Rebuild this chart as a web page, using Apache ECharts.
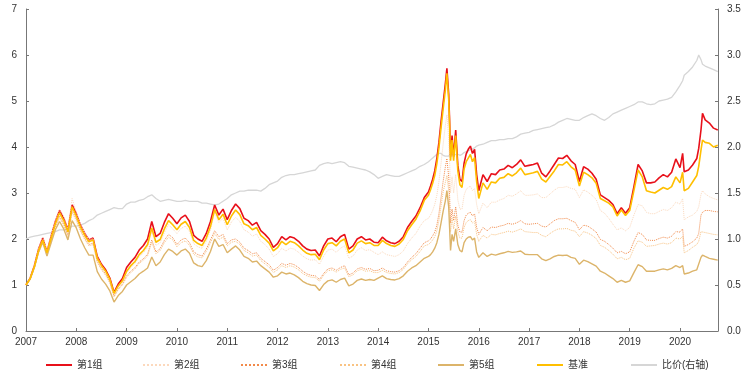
<!DOCTYPE html>
<html><head><meta charset="utf-8">
<script src="https://cdn.jsdelivr.net/npm/echarts@6/dist/echarts.min.js"></script>
<style>html,body{margin:0;padding:0;background:#fff}#c{width:744px;height:375px}</style>
</head><body><div id="c"></div>
<script>
function months(y){var a=[];for(var m=1;m<=12;m++){a.push(y+'-'+(m<10?'0':'')+m+'-01');}return a;}
var dates = [].concat(months(2007),months(2008),months(2009),months(2010),months(2011),months(2012),months(2013),months(2014),
 ['2015-01-01','2015-01-16','2015-02-01','2015-02-16','2015-03-01','2015-03-16','2015-04-01','2015-04-16','2015-05-01','2015-05-13','2015-05-26','2015-06-02','2015-06-09','2015-06-20','2015-07-01','2015-07-16','2015-08-01','2015-08-16','2015-09-01','2015-09-16','2015-10-01','2015-10-16','2015-11-01','2015-11-16','2015-12-01','2015-12-16'],
 months(2016),months(2017),months(2018),months(2019),
 ['2020-01-01','2020-01-20','2020-02-01','2020-03-01','2020-04-01','2020-05-01','2020-05-15','2020-06-01','2020-06-12','2020-07-01','2020-08-01','2020-09-01','2020-10-01']);

var g1 = [1.00,1.15,1.42,1.78,2.02,1.72,2.06,2.38,2.62,2.45,2.20,2.74,
2.55,2.30,2.12,1.98,2.02,1.62,1.45,1.33,1.15,0.84,1.02,1.14,
1.38,1.50,1.60,1.76,1.86,2.00,2.38,2.05,2.12,2.36,2.55,2.45,
2.33,2.46,2.52,2.38,2.08,2.00,1.95,2.12,2.38,2.74,2.52,2.65,
2.42,2.62,2.76,2.66,2.45,2.40,2.30,2.36,2.18,2.10,2.00,1.82,
1.90,2.05,1.98,2.05,2.02,1.95,1.85,1.78,1.75,1.76,1.63,1.85,
2.00,2.02,1.94,2.05,2.10,1.78,1.85,2.00,2.05,1.98,2.00,1.93,
1.92,2.04,1.96,1.92,1.90,1.95,2.05,2.25,2.38,2.50,2.68,2.90,
3.02,3.15,3.30,3.48,3.75,4.10,4.55,4.95,5.35,5.71,5.15,4.60,3.79,4.25,3.79,4.37,3.60,3.30,3.25,3.65,3.85,3.95,4.02,3.86,3.95,3.40,
3.05,3.40,3.25,3.42,3.40,3.50,3.52,3.60,3.55,3.62,3.72,3.58,
3.60,3.62,3.65,3.43,3.35,3.48,3.62,3.76,3.75,3.82,3.70,3.62,
3.25,3.57,3.52,3.43,3.30,2.96,2.90,2.84,2.75,2.55,2.68,2.56,
2.68,3.14,3.62,3.48,3.22,3.22,3.24,3.33,3.40,3.35,3.45,3.74,
3.55,3.86,3.46,3.50,3.61,3.75,3.97,4.37,4.73,4.59,4.52,4.41,4.37];

var g2 = [1.00,1.16,1.43,1.80,2.05,1.75,2.08,2.40,2.64,2.48,2.22,2.88,
2.58,2.32,2.13,1.98,2.01,1.60,1.43,1.30,1.12,0.80,0.97,1.07,
1.26,1.38,1.47,1.61,1.70,1.82,2.17,1.86,1.92,2.14,2.31,2.22,
2.12,2.23,2.28,2.16,1.90,1.83,1.80,1.95,2.20,2.58,2.36,2.45,
2.20,2.37,2.47,2.38,2.20,2.15,2.06,2.11,1.95,1.88,1.78,1.62,
1.68,1.80,1.74,1.80,1.78,1.71,1.63,1.57,1.54,1.55,1.45,1.63,
1.76,1.78,1.71,1.80,1.85,1.58,1.63,1.76,1.81,1.75,1.77,1.71,
1.66,1.72,1.66,1.64,1.62,1.66,1.74,1.90,2.02,2.12,2.28,2.40,
2.45,2.52,2.62,2.75,2.95,3.25,3.65,4.05,4.45,4.70,4.20,3.70,3.00,3.35,3.00,3.40,2.85,2.65,2.65,2.95,3.08,3.12,3.15,3.05,3.10,2.75,
2.55,2.78,2.68,2.80,2.80,2.85,2.88,2.95,2.93,2.98,3.05,2.95,
2.95,2.96,2.98,2.90,2.90,2.98,3.06,3.12,3.12,3.14,3.10,3.08,
2.90,3.07,3.02,2.95,2.86,2.62,2.56,2.45,2.32,2.20,2.24,2.18,
2.25,2.52,2.75,2.72,2.58,2.55,2.55,2.60,2.64,2.62,2.68,2.80,
2.76,2.88,2.42,2.48,2.52,2.60,2.70,2.97,3.05,2.98,2.92,2.88,2.85];

var g3 = [1.00,1.13,1.38,1.72,1.95,1.66,1.97,2.27,2.50,2.33,2.08,2.62,
2.44,2.20,2.02,1.88,1.91,1.52,1.36,1.24,1.07,0.76,0.92,1.02,
1.20,1.30,1.38,1.50,1.57,1.67,1.98,1.72,1.79,1.97,2.10,2.03,
1.88,1.98,2.02,1.92,1.72,1.66,1.63,1.78,1.98,2.18,2.05,2.10,
1.90,1.98,2.00,1.93,1.80,1.75,1.68,1.70,1.58,1.51,1.44,1.32,
1.38,1.47,1.43,1.47,1.44,1.38,1.30,1.24,1.21,1.20,1.12,1.25,
1.35,1.37,1.32,1.38,1.42,1.22,1.26,1.35,1.38,1.34,1.36,1.31,
1.32,1.37,1.31,1.29,1.28,1.31,1.38,1.50,1.60,1.68,1.80,1.92,
1.96,2.00,2.07,2.15,2.30,2.55,2.90,3.25,3.55,3.75,3.35,2.95,2.35,2.65,2.40,2.70,2.30,2.15,2.15,2.40,2.52,2.56,2.58,2.50,2.55,2.25,
2.10,2.25,2.18,2.26,2.25,2.28,2.30,2.34,2.32,2.35,2.40,2.33,
2.32,2.33,2.34,2.28,2.26,2.33,2.40,2.44,2.44,2.45,2.40,2.36,
2.20,2.30,2.28,2.22,2.15,1.99,1.95,1.88,1.80,1.70,1.73,1.68,
1.72,1.95,2.14,2.10,1.98,1.97,1.97,2.01,2.04,2.02,2.06,2.16,
2.15,2.22,1.84,1.88,1.94,2.02,2.12,2.52,2.58,2.62,2.62,2.60,2.59];

var g4 = [1.00,1.12,1.37,1.70,1.93,1.64,1.94,2.24,2.46,2.30,2.05,2.58,
2.40,2.17,1.99,1.85,1.88,1.49,1.33,1.21,1.04,0.74,0.90,1.00,
1.17,1.27,1.35,1.47,1.54,1.63,1.93,1.68,1.75,1.92,2.04,1.98,
1.83,1.92,1.96,1.86,1.67,1.61,1.59,1.73,1.92,2.12,1.99,2.04,
1.85,1.93,1.95,1.88,1.75,1.70,1.63,1.65,1.53,1.46,1.39,1.27,
1.33,1.42,1.38,1.42,1.39,1.33,1.25,1.20,1.17,1.16,1.08,1.21,
1.31,1.33,1.28,1.34,1.37,1.18,1.22,1.31,1.34,1.30,1.31,1.27,
1.27,1.32,1.27,1.25,1.24,1.27,1.34,1.46,1.55,1.62,1.73,1.85,
1.88,1.92,1.98,2.05,2.18,2.40,2.72,3.02,3.22,3.38,3.05,2.70,2.15,2.45,2.22,2.50,2.15,2.02,2.02,2.25,2.36,2.40,2.42,2.35,2.38,2.10,
1.95,2.08,2.02,2.10,2.09,2.12,2.14,2.17,2.15,2.18,2.22,2.16,
2.15,2.14,2.14,2.08,2.05,2.12,2.18,2.22,2.22,2.23,2.19,2.17,
2.05,2.16,2.13,2.08,2.01,1.86,1.82,1.75,1.67,1.57,1.60,1.55,
1.58,1.80,1.96,1.93,1.84,1.85,1.86,1.89,1.91,1.89,1.92,2.02,
2.00,2.06,1.70,1.75,1.82,1.88,1.95,2.16,2.20,2.14,2.12,2.10,2.09];

var g5 = [1.00,1.13,1.38,1.72,1.93,1.63,1.92,2.20,2.38,2.22,1.98,2.40,
2.24,2.00,1.81,1.65,1.65,1.29,1.13,1.02,0.87,0.63,0.77,0.86,
1.00,1.07,1.14,1.24,1.30,1.37,1.61,1.42,1.50,1.66,1.78,1.73,
1.65,1.74,1.78,1.69,1.48,1.42,1.40,1.53,1.73,2.00,1.84,1.88,
1.70,1.78,1.85,1.76,1.62,1.58,1.50,1.52,1.42,1.35,1.28,1.17,
1.20,1.28,1.24,1.26,1.22,1.16,1.08,1.03,1.00,0.99,0.88,1.01,
1.09,1.11,1.06,1.12,1.15,0.98,1.02,1.10,1.13,1.10,1.12,1.10,
1.15,1.20,1.14,1.12,1.11,1.14,1.20,1.30,1.37,1.42,1.50,1.58,
1.62,1.66,1.72,1.80,1.92,2.10,2.35,2.60,2.82,3.05,2.70,2.25,1.75,2.10,1.95,2.22,1.88,1.75,1.72,1.92,2.00,2.04,2.05,1.98,2.02,1.72,
1.60,1.70,1.62,1.67,1.65,1.68,1.70,1.73,1.71,1.72,1.74,1.67,
1.66,1.66,1.66,1.57,1.53,1.57,1.62,1.65,1.64,1.65,1.60,1.58,
1.45,1.54,1.51,1.46,1.41,1.30,1.26,1.20,1.14,1.06,1.10,1.06,
1.09,1.27,1.44,1.40,1.30,1.30,1.30,1.33,1.35,1.33,1.36,1.42,
1.38,1.42,1.24,1.26,1.30,1.33,1.37,1.60,1.65,1.62,1.58,1.56,1.54];

var bench = [1.00,1.14,1.40,1.75,1.98,1.70,2.02,2.33,2.57,2.40,2.15,2.70,
2.50,2.26,2.08,1.94,1.98,1.58,1.42,1.30,1.12,0.82,0.98,1.09,
1.30,1.42,1.51,1.66,1.75,1.88,2.24,1.93,1.99,2.22,2.40,2.31,
2.20,2.32,2.38,2.25,1.97,1.90,1.86,2.02,2.27,2.64,2.42,2.54,
2.31,2.50,2.63,2.53,2.33,2.29,2.20,2.25,2.08,2.00,1.91,1.74,
1.81,1.95,1.88,1.95,1.92,1.85,1.76,1.69,1.66,1.67,1.55,1.76,
1.90,1.92,1.85,1.95,2.00,1.70,1.76,1.91,1.96,1.90,1.92,1.86,
1.86,1.97,1.90,1.86,1.84,1.89,1.99,2.18,2.31,2.43,2.61,2.84,
2.95,3.07,3.21,3.38,3.64,3.98,4.42,4.82,5.22,5.60,5.04,4.50,3.70,4.15,3.70,4.25,3.48,3.18,3.12,3.52,3.68,3.76,3.84,3.68,3.77,3.24,
2.88,3.22,3.08,3.24,3.22,3.32,3.34,3.42,3.37,3.44,3.54,3.40,
3.42,3.44,3.47,3.30,3.24,3.36,3.48,3.62,3.61,3.68,3.57,3.50,
3.15,3.45,3.40,3.33,3.21,2.88,2.83,2.78,2.70,2.50,2.63,2.51,
2.62,3.05,3.50,3.35,3.05,3.02,3.00,3.06,3.12,3.08,3.14,3.35,
3.22,3.45,3.05,3.10,3.24,3.38,3.58,3.93,4.15,4.10,4.08,4.00,4.04];

var ratio = [1.00,1.02,1.03,1.04,1.05,1.06,1.07,1.08,1.10,1.10,1.11,1.14,
1.14,1.15,1.17,1.20,1.22,1.26,1.28,1.30,1.32,1.34,1.33,1.33,
1.38,1.40,1.40,1.42,1.43,1.46,1.48,1.44,1.41,1.42,1.43,1.42,
1.41,1.41,1.42,1.41,1.41,1.41,1.39,1.39,1.38,1.37,1.38,1.41,
1.44,1.48,1.50,1.52,1.52,1.53,1.53,1.53,1.52,1.55,1.59,1.61,
1.63,1.67,1.69,1.70,1.70,1.71,1.72,1.73,1.74,1.75,1.80,1.82,
1.83,1.82,1.83,1.84,1.83,1.79,1.78,1.77,1.76,1.75,1.73,1.70,
1.66,1.68,1.70,1.69,1.68,1.68,1.70,1.72,1.74,1.76,1.79,1.81,
1.84,1.86,1.88,1.90,1.92,1.93,1.93,1.91,1.90,1.88,1.90,1.92,1.93,1.92,1.91,1.92,1.92,1.91,1.92,1.94,1.95,1.96,1.97,1.98,1.99,2.01,
2.02,2.03,2.05,2.07,2.07,2.08,2.08,2.09,2.09,2.11,2.14,2.15,
2.16,2.18,2.19,2.20,2.21,2.22,2.24,2.27,2.29,2.31,2.30,2.29,
2.29,2.32,2.34,2.36,2.34,2.31,2.29,2.32,2.36,2.38,2.40,2.42,
2.44,2.46,2.49,2.49,2.47,2.46,2.47,2.50,2.51,2.52,2.54,2.60,
2.67,2.72,2.78,2.82,2.87,2.94,3.00,2.95,2.90,2.88,2.86,2.84,2.82];

var names = ['第1组','第2组','第3组','第4组','第5组','基准','比价(右轴)'];

function toYear(s){var p=s.split('-');return +p[0]+(+p[1]-1)/12+(+p[2]-1)/365;}
var xs = dates.map(toYear);
function pairs(arr){return xs.map(function(x,i){return [x,arr[i]];});}

var FONT = "'Liberation Sans','Noto Sans CJK SC',Arial,sans-serif";
var SOLID_ICON = 'path://M0,0L26,0L26,2L0,2Z';
var DOT_ICON = 'path://M0,0h1v2h-1zM2,0h1v2h-1zM4,0h1v2h-1zM6,0h1v2h-1zM8,0h1v2h-1zM10,0h1v2h-1zM12,0h1v2h-1zM14,0h1v2h-1zM16,0h1v2h-1zM18,0h1v2h-1zM20,0h1v2h-1zM22,0h1v2h-1zM24,0h1v2h-1zM26,0h0v2h0z';
var styles = [
  {color:'#e8101a', width:1.6, type:'solid', icon:SOLID_ICON},
  {color:'#fcd9bd', width:1, type:'dotted', icon:DOT_ICON},
  {color:'#f28a4a', width:1, type:'dotted', icon:DOT_ICON},
  {color:'#f9c383', width:1, type:'dotted', icon:DOT_ICON},
  {color:'#dcb46a', width:1.4, type:'solid', icon:SOLID_ICON},
  {color:'#ffbf00', width:1.6, type:'solid', icon:SOLID_ICON},
  {color:'#d6d6d6', width:1.3, type:'solid', icon:SOLID_ICON}
];
var dataArr = [g1,g2,g3,g4,g5,bench,ratio];
var series = dataArr.map(function(d,i){
  return {name:names[i], type:'line', yAxisIndex: i===6?1:0, data:pairs(d),
    symbol:'none', showSymbol:false, smooth:false, animation:false, z: i===6?1:2+i,
    legendIcon: styles[i].icon,
    lineStyle:{color:styles[i].color, width:styles[i].width, type:styles[i].type},
    itemStyle:{color:styles[i].color}};
});

var legendLeft = [45,142,240,339,437,536,630];
var legends = names.map(function(n,i){
  return {data:[n], left:legendLeft[i], top:360, padding:0, itemWidth:26, itemHeight:2, itemGap:0,
    selectedMode:false, textStyle:{fontSize:10, color:'#333', fontFamily:FONT}};
});

var axisLineStyle = {color:'#777', width:1};
var chart = echarts.init(document.getElementById('c'), null, {renderer:'canvas'});
chart.setOption({
  backgroundColor:'#fff',
  animation:false,
  grid:{left:26, right:26, top:9, bottom:44, containLabel:false},
  legend: legends,
  xAxis:{type:'value', min:2007, max:2020.755, interval:1,
    axisLine:{show:true, lineStyle:axisLineStyle},
    axisTick:{show:true, inside:true, length:3, lineStyle:axisLineStyle},
    splitLine:{show:false},
    axisLabel:{showMaxLabel:false, margin:6, fontSize:10, color:'#333', fontFamily:FONT,
      formatter:function(v){return Math.abs(v-Math.round(v))<1e-6 ? String(Math.round(v)) : '';}}},
  yAxis:[
    {type:'value', min:0, max:7, interval:1, position:'left',
      axisLine:{show:true, lineStyle:axisLineStyle},
      axisTick:{show:true, inside:true, length:3, lineStyle:axisLineStyle},
      splitLine:{show:false},
      axisLabel:{margin:9, fontSize:10, color:'#333', fontFamily:FONT}},
    {type:'value', min:0, max:3.5, interval:0.5, position:'right',
      axisLine:{show:true, lineStyle:axisLineStyle},
      axisTick:{show:true, inside:true, length:3, lineStyle:axisLineStyle},
      splitLine:{show:false},
      axisLabel:{margin:9, fontSize:10, color:'#333', fontFamily:FONT,
        formatter:function(v){return v.toFixed(1);}}}
  ],
  series: series
});
</script>
</body></html>
